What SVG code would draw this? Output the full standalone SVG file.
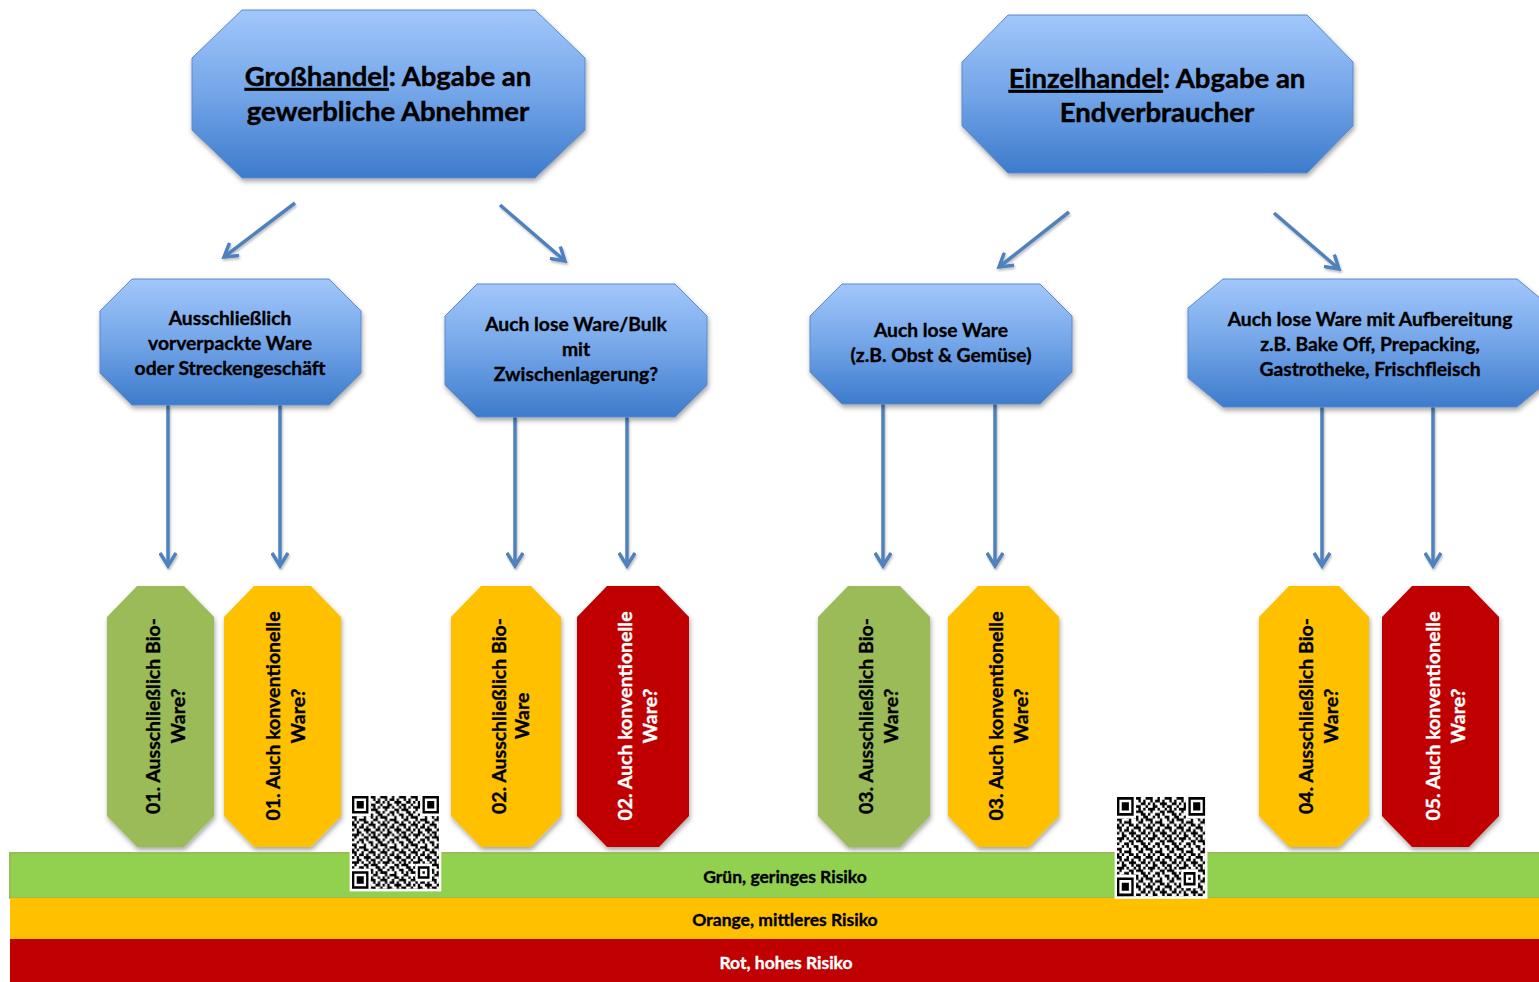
<svg xmlns="http://www.w3.org/2000/svg" width="1539" height="982" viewBox="0 0 1539 982">
<style>
.blue{fill:url(#gBlue);stroke:#5a8ad0;stroke-width:1;filter:url(#sh)}
.grn{fill:#9bbb59;filter:url(#sh)}
.org{fill:#ffc000;filter:url(#sh)}
.red{fill:#c00000;filter:url(#sh)}
text{font-family:Lato,"Open Sans","Liberation Sans",sans-serif;font-weight:bold;fill:#000;stroke:#000;stroke-width:0.35}
.h{font-size:27.5px;stroke-width:0.45}
.m{font-size:19.3px}
.v{font-size:19.5px}
.w{fill:#fff;stroke:#fff}
.b{font-size:17.5px}
.con{stroke:#4f81bd;stroke-width:3.5;fill:none;marker-end:url(#ah)}
</style>
<defs>
<linearGradient id="gBlue" x1="0" y1="0" x2="0" y2="1">
<stop offset="0" stop-color="#a2c7fb"/>
<stop offset="0.5" stop-color="#73a5e8"/>
<stop offset="1" stop-color="#3d7bcc"/>
</linearGradient>
<filter id="sh" x="-10%" y="-10%" width="125%" height="130%">
<feDropShadow dx="1" dy="3" stdDeviation="2.5" flood-color="#000" flood-opacity="0.35"/>
</filter>
<filter id="lsh" x="-20%" y="-20%" width="140%" height="140%">
<feDropShadow dx="1" dy="2" stdDeviation="1.2" flood-color="#000" flood-opacity="0.25"/>
</filter>
<marker id="ah" viewBox="0 0 18 18" refX="15" refY="9" markerWidth="18" markerHeight="18" markerUnits="userSpaceOnUse" orient="auto">
<path d="M2,1 L15,9 L2,17" fill="none" stroke="#4f81bd" stroke-width="3.5"/>
</marker>
<pattern id="qrdata" width="13" height="11" patternUnits="userSpaceOnUse">
<path fill="#000" d="M0 0h2v1h-2zM4 0h1v1h-1zM7 0h3v1h-3zM12 0h1v1h-1zM1 1h1v1h-1zM3 1h2v1h-2zM6 1h1v1h-1zM9 1h1v1h-1zM11 1h1v1h-1zM0 2h1v1h-1zM2 2h1v1h-1zM5 2h3v1h-3zM10 2h2v1h-2zM2 3h2v1h-2zM6 3h1v1h-1zM8 3h2v1h-2zM12 3h1v1h-1zM0 4h3v1h-3zM4 4h1v1h-1zM7 4h1v1h-1zM9 4h1v1h-1zM11 4h1v1h-1zM1 5h1v1h-1zM5 5h2v1h-2zM8 5h3v1h-3zM0 6h1v1h-1zM3 6h2v1h-2zM6 6h1v1h-1zM10 6h2v1h-2zM2 7h1v1h-1zM4 7h1v1h-1zM7 7h2v1h-2zM11 7h2v1h-2zM0 8h2v1h-2zM5 8h1v1h-1zM8 8h1v1h-1zM10 8h1v1h-1zM12 8h1v1h-1zM1 9h1v1h-1zM3 9h3v1h-3zM9 9h2v1h-2zM0 10h1v1h-1zM2 10h1v1h-1zM5 10h2v1h-2zM8 10h1v1h-1zM11 10h1v1h-1z"/>
</pattern>
<g id="qr">
<rect x="-1" y="-1" width="39" height="39" fill="#fff"/>
<rect x="0" y="0" width="37" height="37" fill="url(#qrdata)"/>
<rect x="0" y="0" width="8" height="8" fill="#fff"/>
<rect x="29" y="0" width="8" height="8" fill="#fff"/>
<rect x="0" y="29" width="8" height="8" fill="#fff"/>
<rect x="27" y="27" width="7" height="7" fill="#fff"/>
<path fill="#000" fill-rule="evenodd" d="M0 0h7v7h-7zM1 1v5h5v-5zM2 2h3v3h-3zM30 0h7v7h-7zM31 1v5h5v-5zM32 2h3v3h-3zM0 30h7v7h-7zM1 31v5h5v-5zM2 32h3v3h-3zM28 28h5v5h-5zM29 29v3h3v-3zM30 30h1v1h-1z"/>
</g>
</defs>

<rect x="0" y="0" width="1539" height="982" fill="#fff"/>

<g id="connectors" filter="url(#lsh)">
<line class="con" x1="295" y1="203" x2="224" y2="257"/>
<line class="con" x1="500" y1="205" x2="565" y2="261"/>
<line class="con" x1="1069" y1="212" x2="999" y2="267"/>
<line class="con" x1="1274" y1="213" x2="1339" y2="269"/>
<line class="con" x1="168" y1="405" x2="168" y2="566"/>
<line class="con" x1="280" y1="405" x2="280" y2="566"/>
<line class="con" x1="515" y1="417" x2="515" y2="566"/>
<line class="con" x1="627" y1="417" x2="627" y2="566"/>
<line class="con" x1="883" y1="404" x2="883" y2="566"/>
<line class="con" x1="995" y1="404" x2="995" y2="566"/>
<line class="con" x1="1322" y1="407" x2="1322" y2="566"/>
<line class="con" x1="1433" y1="407" x2="1433" y2="566"/>
</g>

<g id="grosshandel">
<path class="blue" d="M242,10 H535 L585,58 V130 L535,178 H242 L192,130 V58 Z"/>
<text class="h" x="388" y="86" text-anchor="middle"><tspan text-decoration="underline">Großhandel</tspan>: Abgabe an</text>
<text class="h" x="388" y="121" text-anchor="middle">gewerbliche Abnehmer</text>
</g>
<g id="einzelhandel">
<path class="blue" d="M1008,15 H1307 L1353,62 V126 L1307,173 H1008 L962,126 V62 Z"/>
<text class="h" x="1157" y="88" text-anchor="middle"><tspan text-decoration="underline">Einzelhandel</tspan>: Abgabe an</text>
<text class="h" x="1157" y="122" text-anchor="middle">Endverbraucher</text>
</g>

<g id="vorverpackt">
<path class="blue" d="M132,279 H329 L361,311 V373 L329,405 H132 L100,373 V311 Z"/>
<text class="m" text-anchor="middle"><tspan x="230" y="325">Ausschließlich</tspan><tspan x="230" y="350">vorverpackte Ware</tspan><tspan x="230" y="375">oder Streckengeschäft</tspan></text>
</g>
<g id="bulk">
<path class="blue" d="M477,284 H675 L707,316 V385 L675,417 H477 L445,385 V316 Z"/>
<text class="m" text-anchor="middle"><tspan x="576" y="331">Auch lose Ware/Bulk</tspan><tspan x="576" y="356">mit</tspan><tspan x="576" y="381">Zwischenlagerung?</tspan></text>
</g>
<g id="losewaren">
<path class="blue" d="M842,284 H1040 L1072,316 V372 L1040,404 H842 L810,372 V316 Z"/>
<text class="m" text-anchor="middle"><tspan x="941" y="337">Auch lose Ware</tspan><tspan x="941" y="362">(z.B. Obst &amp; Gemüse)</tspan></text>
</g>
<g id="aufbereitung">
<path class="blue" d="M1223,279 H1517 L1552,308 V378 L1517,407 H1223 L1188,378 V308 Z"/>
<text class="m" text-anchor="middle"><tspan x="1370" y="326">Auch lose Ware mit Aufbereitung</tspan><tspan x="1370" y="351">z.B. Bake Off, Prepacking,</tspan><tspan x="1370" y="376">Gastrotheke, Frischfleisch</tspan></text>
</g>

<g id="n01bio">
<path class="grn" d="M137,586 H184 L214,617 V816 L184,847 H137 L107,816 V617 Z"/>
<text class="v" text-anchor="middle" transform="translate(160.5,716) rotate(-90)"><tspan x="0" y="-1">01. Ausschließlich Bio-</tspan><tspan x="0" y="24">Ware?</tspan></text>
</g>
<g id="n01konv">
<path class="org" d="M254,586 H311 L341,617 V816 L311,847 H254 L224,816 V617 Z"/>
<text class="v" text-anchor="middle" transform="translate(282.5,716) rotate(-90)"><tspan x="0" y="-3">01. Auch konventionelle</tspan><tspan x="0" y="22">Ware?</tspan></text>
</g>
<g id="n02bio">
<path class="org" d="M481,586 H531 L561,617 V816 L531,847 H481 L451,816 V617 Z"/>
<text class="v" text-anchor="middle" transform="translate(506,716) rotate(-90)"><tspan x="0" y="0">02. Ausschließlich Bio-</tspan><tspan x="0" y="23">Ware</tspan></text>
</g>
<g id="n02konv">
<path class="red" d="M607,586 H659 L689,617 V816 L659,847 H607 L577,816 V617 Z"/>
<text class="v w" text-anchor="middle" transform="translate(633,716) rotate(-90)"><tspan x="0" y="-1">02. Auch konventionelle</tspan><tspan x="0" y="24">Ware?</tspan></text>
</g>
<g id="n03bio">
<path class="grn" d="M848,586 H900 L930,617 V816 L900,847 H848 L818,816 V617 Z"/>
<text class="v" text-anchor="middle" transform="translate(874,716) rotate(-90)"><tspan x="0" y="-1">03. Ausschließlich Bio-</tspan><tspan x="0" y="24">Ware?</tspan></text>
</g>
<g id="n03konv">
<path class="org" d="M978,586 H1029 L1059,617 V816 L1029,847 H978 L948,816 V617 Z"/>
<text class="v" text-anchor="middle" transform="translate(1003.5,716) rotate(-90)"><tspan x="0" y="-1">03. Auch konventionelle</tspan><tspan x="0" y="24">Ware?</tspan></text>
</g>
<g id="n04bio">
<path class="org" d="M1289,586 H1339 L1369,617 V816 L1339,847 H1289 L1259,816 V617 Z"/>
<text class="v" text-anchor="middle" transform="translate(1314,716) rotate(-90)"><tspan x="0" y="-1">04. Ausschließlich Bio-</tspan><tspan x="0" y="24">Ware?</tspan></text>
</g>
<g id="n05konv">
<path class="red" d="M1412,586 H1469 L1499,617 V816 L1469,847 H1412 L1382,816 V617 Z"/>
<text class="v w" text-anchor="middle" transform="translate(1440.5,716) rotate(-90)"><tspan x="0" y="-1">05. Auch konventionelle</tspan><tspan x="0" y="24">Ware?</tspan></text>
</g>

<g id="legend">
<rect x="10" y="853" width="1530" height="45" fill="#92d050" stroke="#9bbb59" stroke-width="2"/>
<rect x="10" y="898" width="1529" height="41" fill="#ffc000"/>
<rect x="10" y="939" width="1529" height="43" fill="#c00000"/>
<text class="b" x="785" y="883" text-anchor="middle">Grün, geringes Risiko</text>
<text class="b" x="785" y="926" text-anchor="middle">Orange, mittleres Risiko</text>
<text class="b w" x="786" y="969" text-anchor="middle">Rot, hohes Risiko</text>
</g>

<g id="qr1">
<use href="#qr" transform="translate(352,796) scale(2.35,2.51)"/>
</g>
<g id="qr2">
<use href="#qr" transform="translate(1117,797) scale(2.38,2.68)"/>
</g>
</svg>
